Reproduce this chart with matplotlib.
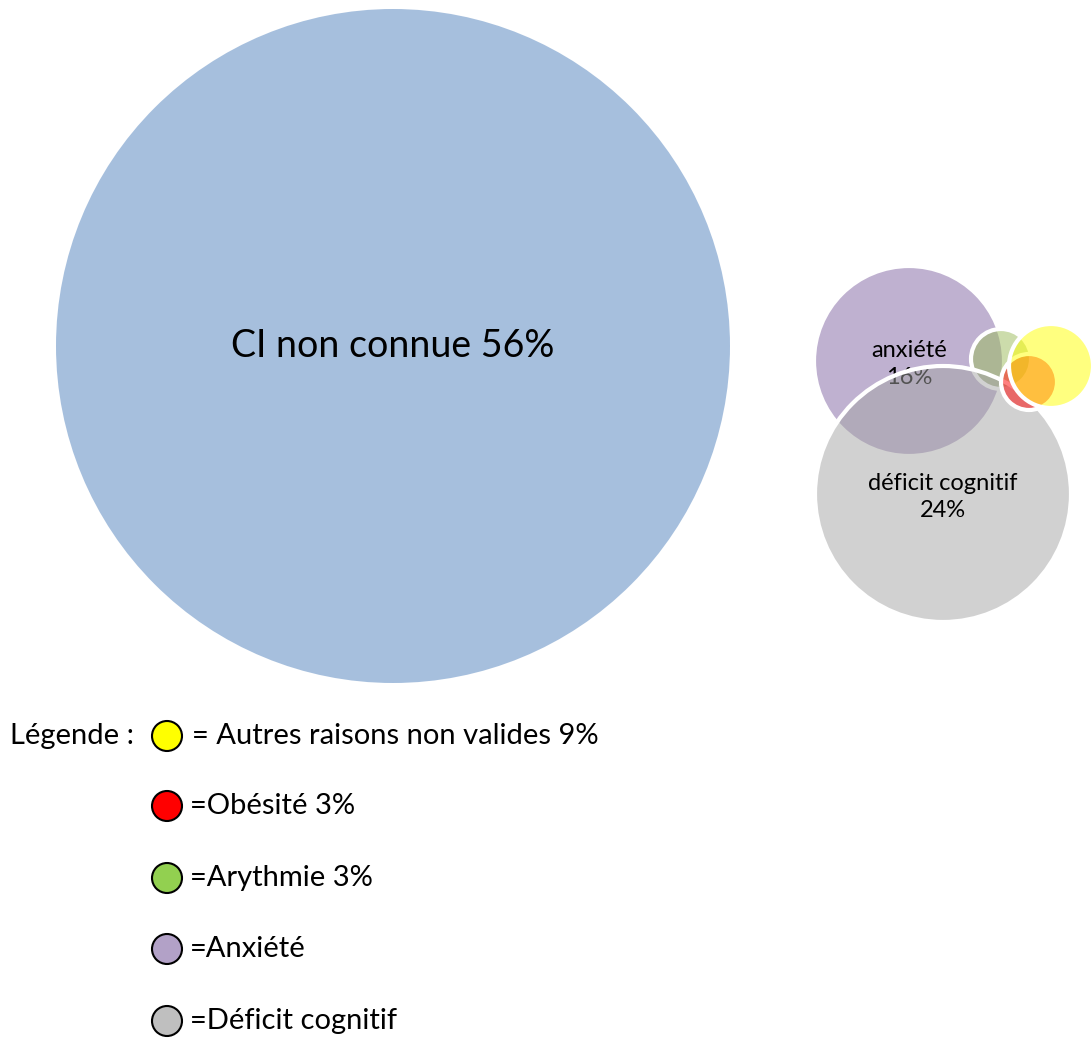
import matplotlib
matplotlib.use("Agg")
import matplotlib.pyplot as plt
from matplotlib.patches import Circle

plt.rcParams['font.family'] = ['Lato', 'DejaVu Sans']

# bubble data (position on the chart, radius, share in %)
bubble_names = ["CI non connue", "anxiété", "déficit cognitif", "Arythmie", "Obésité", "Autres raisons non valides"]
bubble_pct = [56, 16, 24, 3, 3, 9]
bubble_x = [393, 909, 943, 1001, 1029, 1051]
bubble_y = [346, 361, 494, 359, 382, 366]
bubble_r = [337, 95, 128, 30, 28, 42]
bubble_colors = ["#4F81BD", "#8064A2", "#A5A5A5", "#9BBB59", "#FF0000", "#FFFF00"]

# legend entries
legend_labels = ["= Autres raisons non valides 9%", "=Obésité 3%", "=Arythmie 3%", "=Anxiété", "=Déficit cognitif"]
legend_colors = ["#FFFF00", "#FF0000", "#92D050", "#B2A1C7", "#BFBFBF"]

W, H = 1091, 1039
fig = plt.figure(figsize=(W / 100, H / 100), dpi=100)
ax = fig.add_axes([0, 0, 1, 1])
ax.set_xlim(0, W)
ax.set_ylim(H, 0)
ax.axis('off')

# drawing order: big blue, purple, green, gray, red, yellow
order = [0, 1, 3, 2, 4, 5]
for z, i in enumerate(order):
    ax.add_patch(Circle((bubble_x[i], bubble_y[i]), bubble_r[i], facecolor=bubble_colors[i],
                        alpha=0.5, edgecolor='none', zorder=2 + z))
    if i != 0:
        ax.add_patch(Circle((bubble_x[i], bubble_y[i]), bubble_r[i], facecolor='none',
                            edgecolor='white', linewidth=3, zorder=2 + z))

ax.text(bubble_x[0], bubble_y[0], f"{bubble_names[0]} {bubble_pct[0]}%", fontsize=27,
        ha='center', va='center', zorder=20)
# anxiété label sits under the gray bubble
ax.text(bubble_x[1], bubble_y[1] + 3, f"{bubble_names[1]}\n{bubble_pct[1]}%", fontsize=17,
        ha='center', va='center', linespacing=1.35, zorder=3)
ax.text(bubble_x[2], bubble_y[2] + 3, f"{bubble_names[2]}\n{bubble_pct[2]}%", fontsize=17,
        ha='center', va='center', linespacing=1.35, zorder=20)

# hand-made legend
ax.text(10, 736, "Légende :", fontsize=21, va='center', ha='left')
row_y = [736, 806, 878, 949, 1021]
for yy, lab, col in zip(row_y, legend_labels, legend_colors):
    ax.add_patch(Circle((167, yy), 15, facecolor=col, edgecolor='black', linewidth=1.5, zorder=5))
    ax.text(192 if lab.startswith('= ') else 190, yy, lab, fontsize=21, va='center', ha='left')

fig.savefig("out.png", dpi=100)
